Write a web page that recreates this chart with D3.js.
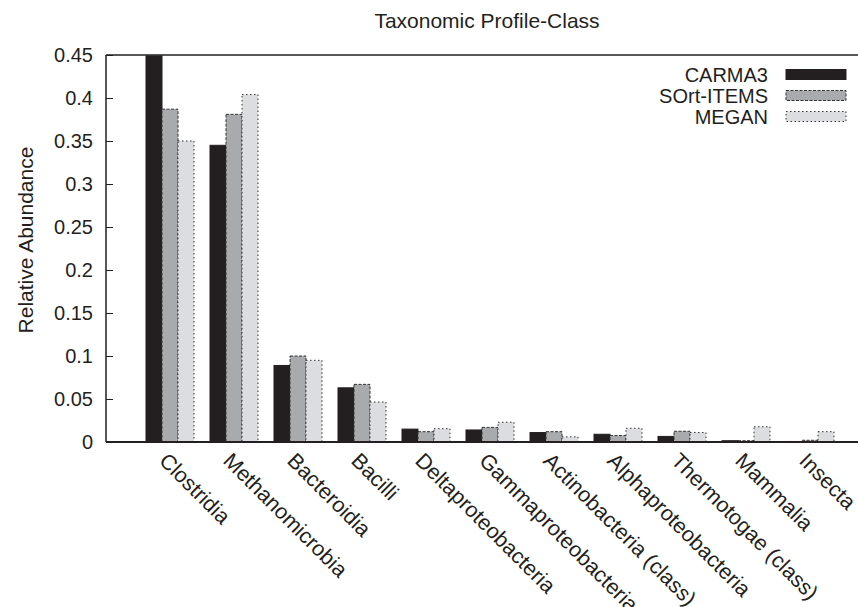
<!DOCTYPE html>
<html>
<head>
<meta charset="utf-8">
<script src="https://cdn.jsdelivr.net/npm/d3@7"></script>
<style>
  body { margin:0; background:#fff; }
  text { font-family:"Liberation Sans", Arial, Helvetica, sans-serif; fill:#231f20; }
</style>
</head>
<body>
<svg id="chart" width="858" height="607"></svg>
<script>

var categories = ["Clostridia","Methanomicrobia","Bacteroidia","Bacilli","Deltaproteobacteria",
  "Gammaproteobacteria","Actinobacteria (class)","Alphaproteobacteria","Thermotogae (class)",
  "Mammalia","Insecta"];
var seriesNames = ["CARMA3","SOrt-ITEMS","MEGAN"];
var carma3    = [0.449, 0.345, 0.089, 0.063, 0.015, 0.014, 0.011, 0.009, 0.0065, 0.0015, 0.0006];
var sortItems = [0.387, 0.381, 0.100, 0.067, 0.012, 0.017, 0.012, 0.0075, 0.0125, 0.0015, 0.002];
var megan     = [0.350, 0.404, 0.095, 0.0465, 0.0155, 0.023, 0.006, 0.016, 0.011, 0.0177, 0.012];
var yTicks = [0, 0.05, 0.1, 0.15, 0.2, 0.25, 0.3, 0.35, 0.4, 0.45];

var series = [carma3, sortItems, megan];
var fills = ["#231f20", "#a9aaad", "#dcdde0"];
var dashes = [null, "3,1.5", "1.5,2.5"];

var svg = d3.select("#chart");

// gnuplot style: centres at 0..10, frame running off to the right
var x = d3.scaleLinear().domain([-1, 10.75]).range([106, 858]);
var y = d3.scaleLinear().domain([0, 0.45]).range([442, 55]);
var barW = 0.25;

// bars
series.forEach(function(vals, s){
  svg.append("g").selectAll("rect")
    .data(vals)
    .enter()
    .append("rect")
      .attr("x", function(d, i){ return x(i + (s - 1.5) * barW); })
      .attr("y", function(d){ return y(d); })
      .attr("width", x(barW) - x(0))
      .attr("height", function(d){ return y(0) - y(d); })
      .attr("fill", fills[s])
      .attr("stroke", s == 0 ? fills[0] : "#333")
      .attr("stroke-width", 1)
      .attr("stroke-dasharray", dashes[s]);
});

// y axis (ticks inward)
var yAxis = d3.axisRight(y).tickValues(yTicks).tickSize(7).tickFormat("");
var ya = svg.append("g").attr("transform", "translate(106,0)").call(yAxis);
ya.select(".domain").remove();
ya.selectAll("line").attr("stroke", "#231f20");

svg.selectAll(".ylab")
  .data(yTicks)
  .enter()
  .append("text")
    .attr("x", 93)
    .attr("y", function(d){ return y(d) + 7; })
    .attr("text-anchor", "end")
    .attr("font-size", 20)
    .text(function(d){ return d3.format("")(d); });

// frame
svg.append("line").attr("x1", 106).attr("x2", 106).attr("y1", y(0.45)).attr("y2", y(0))
  .attr("stroke", "#231f20").attr("stroke-width", 1.5);
svg.append("line").attr("x1", 106).attr("x2", 858).attr("y1", y(0.45)).attr("y2", y(0.45))
  .attr("stroke", "#231f20").attr("stroke-width", 1.5);
svg.append("line").attr("x1", 106).attr("x2", 858).attr("y1", y(0)).attr("y2", y(0))
  .attr("stroke", "#231f20").attr("stroke-width", 2);

// category labels, rotated
svg.selectAll(".xlab")
  .data(categories)
  .enter()
  .append("text")
    .attr("transform", function(d, i){ return "translate(" + (x(i) - 12) + ",462) rotate(45)"; })
    .attr("font-size", 21.5)
    .text(function(d){ return d; });

// titles
svg.append("text")
  .attr("x", 487)
  .attr("y", 28)
  .attr("text-anchor", "middle")
  .attr("font-size", 21)
  .text("Taxonomic Profile-Class");

svg.append("text")
  .attr("transform", "translate(33,240) rotate(-90)")
  .attr("text-anchor", "middle")
  .attr("font-size", 21)
  .text("Relative Abundance");

// legend
var legend = svg.append("g").selectAll("g")
  .data(seriesNames)
  .enter()
  .append("g")
    .attr("transform", function(d, i){ return "translate(0," + (74.5 + i * 21) + ")"; });
legend.append("text")
  .attr("x", 768)
  .attr("y", 7)
  .attr("text-anchor", "end")
  .attr("font-size", 20)
  .text(function(d){ return d; });
legend.append("rect")
  .attr("x", 786)
  .attr("y", -5)
  .attr("width", 60)
  .attr("height", 10)
  .attr("fill", function(d, i){ return fills[i]; })
  .attr("stroke", function(d, i){ return i == 0 ? fills[0] : "#333"; })
  .attr("stroke-dasharray", function(d, i){ return dashes[i]; });

</script>
</body>
</html>
